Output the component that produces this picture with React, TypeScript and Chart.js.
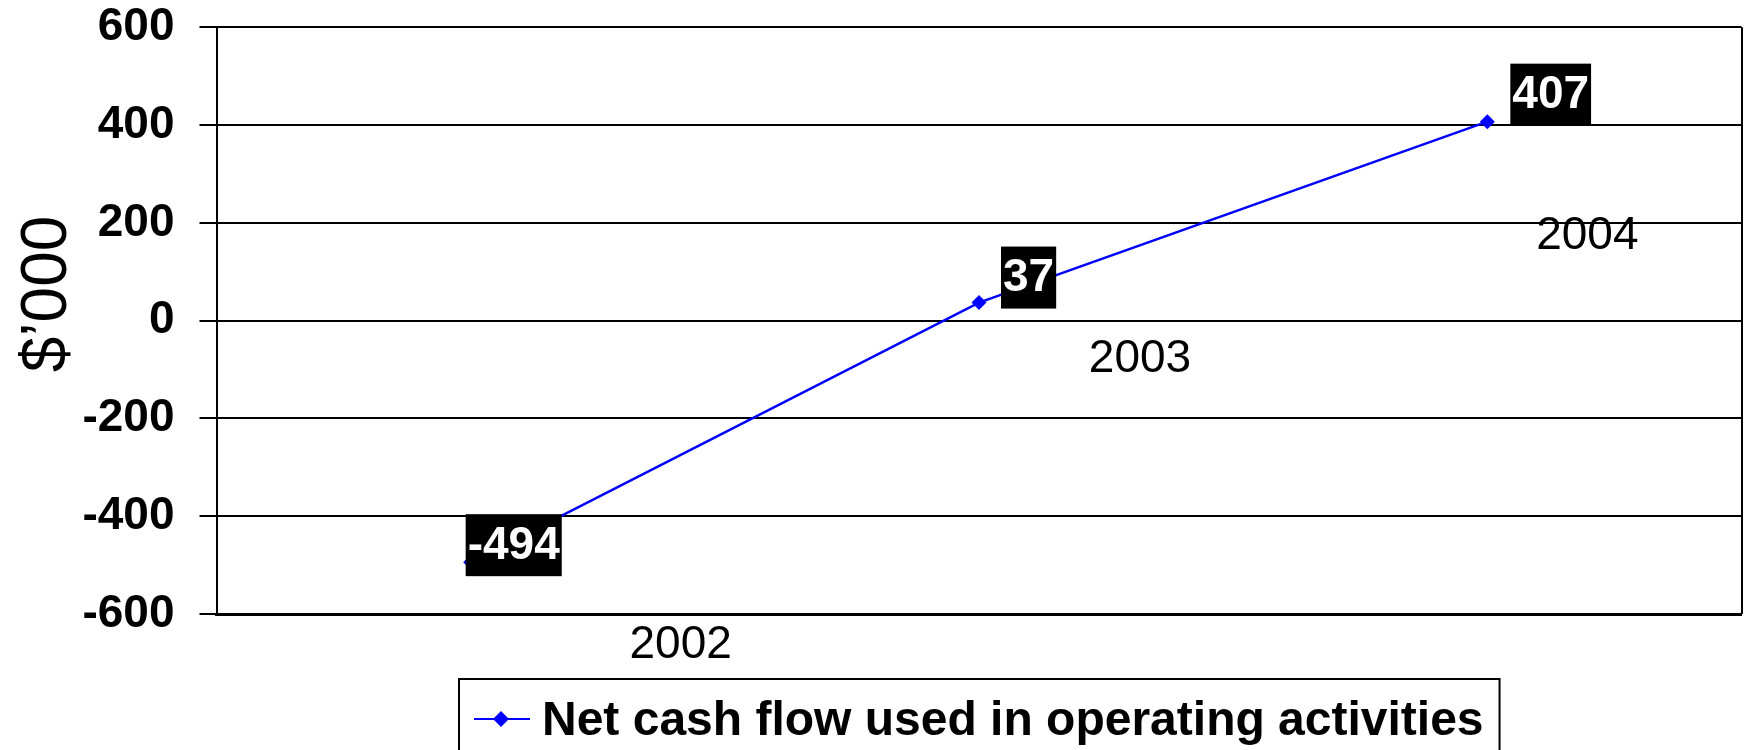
import React, { useEffect, useRef } from 'react';
import { Chart, registerables } from 'chart.js';

Chart.register(...registerables);

const FONT = '"Liberation Sans", Arial, Helvetica, sans-serif';

// ---- data ----
const categories: string[] = ['2002', '2003', '2004'];
const netCashFlow: number[] = [-494, 37, 407];
const yTickValues: number[] = [-600, -400, -200, 0, 200, 400, 600];
const seriesLabel = 'Net cash flow used in operating activities';
const yAxisTitle = '$\u2019000';

// placement of the value boxes and category texts relative to each point (px)
const VALUE_BOX_OFFSET = [
  { dx: -5, dy: -48 },
  { dx: 22, dy: -56 },
  { dx: 23, dy: -58 },
];
const CAT_LABEL_OFFSET = [
  { dx: 210, dy: 83 },
  { dx: 161, dy: 57 },
  { dx: 100, dy: 115 },
];

const decorPlugin = {
  id: 'decor',
  afterDatasetsDraw(chart: any) {
    const ctx: CanvasRenderingContext2D = chart.ctx;
    const area = chart.chartArea;
    ctx.save();
    // right border of the plot
    ctx.strokeStyle = '#000';
    ctx.lineWidth = 2;
    ctx.beginPath();
    ctx.moveTo(Math.round(area.right), area.top);
    ctx.lineTo(Math.round(area.right), area.bottom);
    ctx.stroke();

    const meta = chart.getDatasetMeta(0);
    const values = chart.data.datasets[0].data;
    meta.data.forEach((pt: any, i: number) => {
      const text = String(values[i]);
      ctx.font = `bold 46px ${FONT}`;
      const w = ctx.measureText(text).width + 4;
      const h = 62;
      const off = VALUE_BOX_OFFSET[i];
      const x0 = pt.x + off.dx;
      const y0 = pt.y + off.dy;
      ctx.fillStyle = '#000';
      ctx.fillRect(x0, y0, w, h);
      ctx.fillStyle = '#fff';
      ctx.textAlign = 'center';
      ctx.textBaseline = 'middle';
      ctx.fillText(text, x0 + w / 2, y0 + h / 2 + 1);

      const c = CAT_LABEL_OFFSET[i];
      ctx.font = `46px ${FONT}`;
      ctx.fillStyle = '#000';
      ctx.fillText(String(chart.data.labels[i]), pt.x + c.dx, pt.y + c.dy);
    });

    // legend box
    const label = chart.data.datasets[0].label;
    ctx.font = `bold 48px ${FONT}`;
    const tw = ctx.measureText(label).width;
    const bw = 83 + tw + 16;
    const cx = (area.left + area.right) / 2;
    const bx = Math.round(cx - bw / 2);
    const by = Math.round(area.bottom + 65);
    ctx.strokeStyle = '#000';
    ctx.lineWidth = 2;
    ctx.strokeRect(bx, by, bw, 90);
    const sy = by + 40;
    ctx.strokeStyle = '#0000ff';
    ctx.lineWidth = 2;
    ctx.beginPath();
    ctx.moveTo(bx + 15, sy);
    ctx.lineTo(bx + 71, sy);
    ctx.stroke();
    ctx.fillStyle = '#0000ff';
    ctx.beginPath();
    ctx.moveTo(bx + 42, sy - 8);
    ctx.lineTo(bx + 50, sy);
    ctx.lineTo(bx + 42, sy + 8);
    ctx.lineTo(bx + 34, sy);
    ctx.closePath();
    ctx.fill();
    ctx.fillStyle = '#000';
    ctx.textAlign = 'left';
    ctx.textBaseline = 'alphabetic';
    ctx.fillText(label, bx + 83, by + 56);
    ctx.restore();
  },
};

export default function App() {
  const canvasRef = useRef<HTMLCanvasElement | null>(null);

  useEffect(() => {
    if (!canvasRef.current) return;
    const chart = new Chart(canvasRef.current, {
      type: 'line',
      data: {
        labels: categories,
        datasets: [
          {
            label: seriesLabel,
            data: netCashFlow,
            borderColor: '#0000ff',
            backgroundColor: '#0000ff',
            borderWidth: 2.5,
            pointStyle: 'rectRot',
            pointRadius: 7.5,
            pointHoverRadius: 7.5,
            pointBorderWidth: 0,
            tension: 0,
            fill: false,
          },
        ],
      },
      options: {
        responsive: false,
        animation: false,
        devicePixelRatio: 1,
        layout: { padding: { left: 0, right: 6, top: 0, bottom: 136 } },
        plugins: {
          legend: { display: false },
          tooltip: { enabled: false },
          title: { display: false },
        },
        scales: {
          x: {
            type: 'category',
            offset: true,
            ticks: { display: false },
            grid: { display: false, drawTicks: false },
            border: { display: true, color: '#000', width: 3 },
          },
          y: {
            min: yTickValues[0],
            max: yTickValues[yTickValues.length - 1],
            afterBuildTicks: (scale: any) => {
              scale.ticks = yTickValues.map((v) => ({ value: v }));
            },
            afterFit: (scale: any) => {
              scale.width = 216.5;
              scale.paddingTop = 27.3;
              scale.paddingBottom = 27.3;
            },
            ticks: {
              color: '#000',
              padding: 25,
              font: { family: FONT, size: 46, weight: 'bold', lineHeight: 1.2 },
            },
            grid: { color: '#000', lineWidth: 2, tickLength: 17, drawTicks: true },
            border: { display: true, color: '#000', width: 2 },
            title: {
              display: true,
              text: '   ' + yAxisTitle,
              color: '#000',
              font: { family: FONT, size: 64, weight: 'normal', lineHeight: 1 },
              padding: { top: 16.5, bottom: 2 },
            },
          },
        },
      },
      plugins: [decorPlugin],
    });
    return () => chart.destroy();
  }, []);

  return (
    <div style={{ position: 'absolute', left: 0, top: 0, width: 1749, height: 750, background: '#fff' }}>
      <canvas ref={canvasRef} width={1749} height={750} />
    </div>
  );
}
